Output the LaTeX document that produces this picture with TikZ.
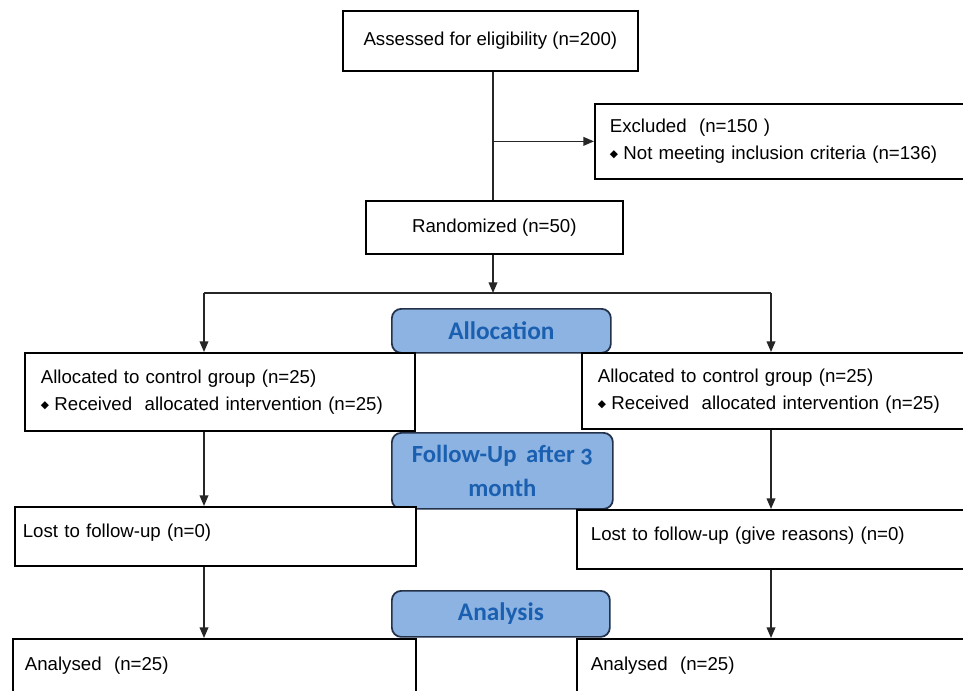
\documentclass[tikz,border=0pt]{standalone}
\usepackage{fontspec}
\setmainfont{Liberation Sans}
\newfontfamily\calib[Numbers=OldStyle]{Carlito}
\newfontfamily\dvs{DejaVu Sans}
\usetikzlibrary{arrows.meta}
\definecolor{lblfill}{HTML}{8DB3E2}
\definecolor{lbltext}{HTML}{1B60B0}
\definecolor{lbldraw}{HTML}{23314A}
\newcommand{\bul}{{\dvs\fontsize{8pt}{8pt}\selectfont\raisebox{1.5pt}{◆}}\hspace{4pt}}
\tikzset{
  box/.style={draw=black, line width=1.3pt, fill=white, anchor=north west, inner ysep=0pt,
    font=\fontsize{14pt}{20pt}\selectfont},
  lbl/.style={draw=lbldraw, line width=1.3pt, fill=lblfill, rounded corners=7pt, anchor=north west,
    text=lbltext, inner sep=0pt, align=center, font=\calib\bfseries\fontsize{19pt}{25pt}\selectfont},
  conn/.style={line width=1.2pt, draw=black!85},
  arr/.style={conn, -{Triangle[length=8pt,width=6.5pt]}}
}
\begin{document}
\begin{tikzpicture}[x=0.75pt,y=-0.75pt]
\useasboundingbox (0,0) rectangle (963,690);
\fill[white] (0,0) rectangle (963,690);
% boxes
\node[box, minimum width=221.25pt, minimum height=45pt, align=center] (assess) at (342,10) {Assessed for eligibility (n=200)};
\node[box, minimum width=279pt, minimum height=56.25pt, inner xsep=11.25pt, text width=256.5pt, align=left] (excl) at (594,103)
  {Excluded\ \ (n=150 )\\ \bul Not meeting inclusion criteria (n=136)};
\node[box, minimum width=192.75pt, minimum height=39.75pt, align=center] (rand) at (365,200) {Randomized (n=50)};
\node[lbl, minimum width=164.25pt, minimum height=33pt] (alloc) at (391,308) {Allocation};
\node[box, minimum width=292.5pt, minimum height=58.5pt, inner xsep=12pt, text width=268.5pt, align=left] (allocL) at (24,352)
  {Allocated to control group (n=25)\\ \bul Received\ \ allocated intervention (n=25)};
\node[box, minimum width=288pt, minimum height=57pt, inner xsep=12pt, text width=264pt, align=left] (allocR) at (581,352)
  {Allocated to control group (n=25)\\ \bul Received\ \ allocated intervention (n=25)};
\node[lbl, minimum width=165.75pt, minimum height=57pt, font=\calib\bfseries\fontsize{18.5pt}{25pt}\selectfont] (follow) at (391,432) {Follow-Up\,\ after 3\\ month};
\node[box, minimum width=300.75pt, minimum height=44.25pt, inner xsep=6pt, text width=288.75pt, align=left, text depth=9pt] (lostL) at (14,506)
  {Lost to follow-up (n=0)};
\node[box, minimum width=291.75pt, minimum height=44.25pt, inner xsep=10.5pt, text width=270.75pt, align=left, text depth=9pt] (lostR) at (576,509)
  {Lost to follow-up (give reasons) (n=0)};
\node[lbl, minimum width=163.5pt, minimum height=34.5pt] (analysis) at (391,590) {Analysis};
\node[box, minimum width=302.25pt, minimum height=40.5pt, inner xsep=9pt, text width=284.25pt, align=left] (anaL) at (12,638)
  {Analysed\ \ (n=25)};
\node[box, minimum width=291.75pt, minimum height=40.5pt, inner xsep=10.5pt, text width=270.75pt, align=left] (anaR) at (576,638)
  {Analysed\ \ (n=25)};
% connectors
\coordinate (sL) at (204,293);
\coordinate (sM) at (493,293);
\coordinate (sR) at (771,293);
\draw[conn] (sM |- assess.south) -- (sM |- rand.north);
\draw[arr] (sM |- excl.west) -- (excl.west);
\draw[arr] (sM |- rand.south) -- (sM);
\draw[conn] (sL) -- (sR);
\draw[arr] (sL) -- (sL |- allocL.north);
\draw[arr] (sR) -- (sR |- allocR.north);
\draw[arr] (sL |- allocL.south) -- (sL |- lostL.north);
\draw[arr] (sR |- allocR.south) -- (sR |- lostR.north);
\draw[arr] (sL |- lostL.south) -- (sL |- anaL.north);
\draw[arr] (sR |- lostR.south) -- (sR |- anaR.north);
\end{tikzpicture}
\end{document}
